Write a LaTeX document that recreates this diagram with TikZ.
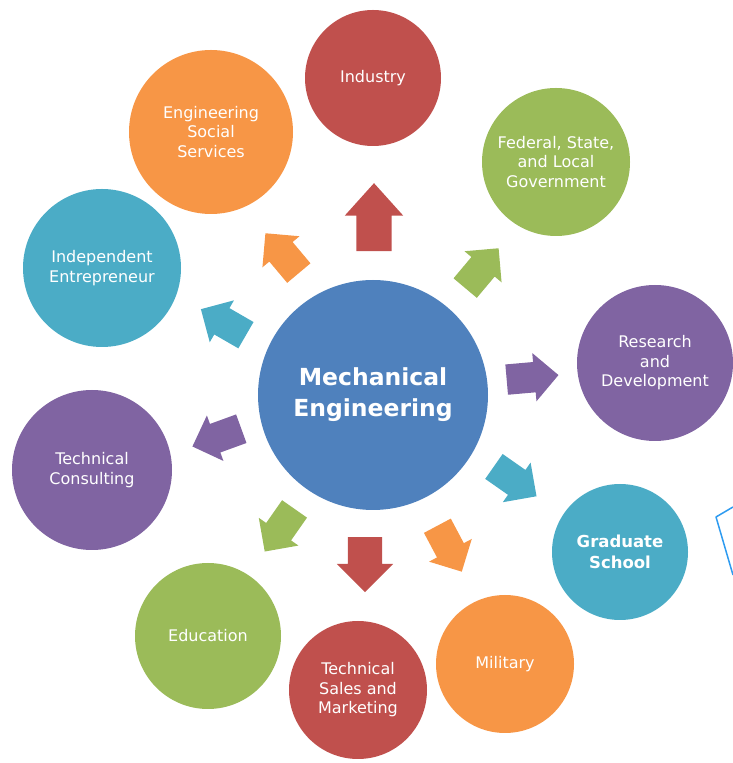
\documentclass[tikz,border=0pt]{standalone}
\usepackage{fontspec}
\setmainfont{DejaVu Sans}
\usetikzlibrary{shapes.arrows}
\definecolor{meblue}{HTML}{4F81BD}
\definecolor{mered}{HTML}{C0504D}
\definecolor{megreen}{HTML}{9BBB59}
\definecolor{mepurple}{HTML}{8064A2}
\definecolor{meaqua}{HTML}{4BACC6}
\definecolor{meorange}{HTML}{F79646}
\definecolor{bubble}{HTML}{2E9BF0}
\begin{document}
\begin{tikzpicture}[x=1pt,y=1pt,line join=round,
	field/.style={circle,inner sep=0pt,minimum size=#1,text=white,align=center,font=\fontsize{16}{19.5}\selectfont},
	pointer/.style={single arrow,inner xsep=0pt,inner ysep=15pt,minimum height=52pt,single arrow head extend=9pt,single arrow tip angle=90}]
	\useasboundingbox (0,0) rectangle (733,763);
	\node[field=230pt,fill=meblue,font=\bfseries\fontsize{23.5}{31}\selectfont] (mech) at (373,368) {Mechanical\\Engineering};
	\node[field=136pt,fill=mered] (ind) at (373,685) {Industry};
	\node[field=148pt,fill=megreen] (gov) at (556,601) {Federal, State,\\and Local\\Government};
	\node[field=156pt,fill=mepurple] (rnd) at (655,400) {Research\\and\\Development};
	\node[field=136pt,fill=meaqua,font=\bfseries\fontsize{16.5}{21}\selectfont] (grad) at (620,211) {Graduate\\School};
	\node[field=138pt,fill=meorange] (mil) at (505,99) {Military};
	\node[field=138pt,fill=mered] (sales) at (358,73) {Technical\\Sales and\\Marketing};
	\node[field=146pt,fill=megreen] (edu) at (208,127) {Education};
	\node[field=160pt,fill=mepurple] (cons) at (92,293) {Technical\\Consulting};
	\node[field=158pt,fill=meaqua] (entr) at (102,495) {Independent\\Entrepreneur};
	\node[field=164pt,fill=meorange] (soc) at (211,631) {Engineering\\Social\\Services};
	\node[pointer,fill=mered,minimum height=68pt,inner ysep=17.5pt,single arrow head extend=11.5pt,single arrow tip angle=84,rotate=90] (toind) at (374,536) {};
	\node[pointer,fill=megreen,rotate=50] (togov) at (477,489) {};
	\node[pointer,fill=mepurple,rotate=5] (tornd) at (525,385) {};
	\node[pointer,fill=meaqua,rotate=-35] (tograd) at (509,286) {};
	\node[pointer,fill=meorange,rotate=-62] (tomil) at (446,221) {};
	\node[pointer,fill=mered,minimum height=55pt,inner ysep=17pt,single arrow head extend=11pt,rotate=-90] (tosales) at (365,207) {};
	\node[pointer,fill=megreen,rotate=-125] (toedu) at (284,239) {};
	\node[pointer,fill=mepurple,rotate=200] (tocons) at (224,328) {};
	\node[pointer,fill=meaqua,rotate=150] (toentr) at (230,437) {};
	\node[pointer,fill=meorange,rotate=130] (tosoc) at (287,504) {};
	\draw[bubble,line width=1.5pt] (733,256) -- (716,246) -- (733,188);
\end{tikzpicture}
\end{document}
